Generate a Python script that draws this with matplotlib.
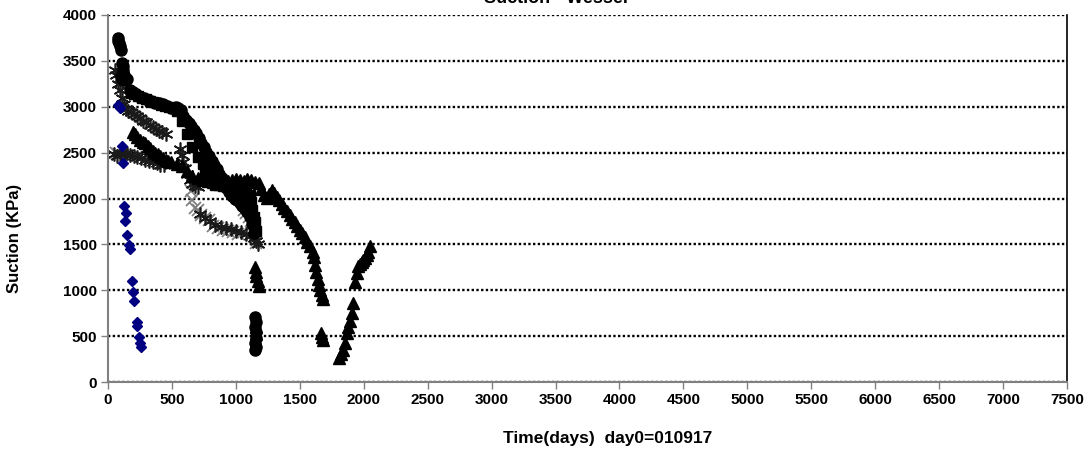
import matplotlib
matplotlib.use('Agg')
import matplotlib.pyplot as plot

plot.rcParams['font.family'] = ['Liberation Sans', 'DejaVu Sans']

# Values (days since 010917, suction in KPa)
diamond_x = [78, 95, 110, 120, 128, 141, 133, 151, 167, 172, 190, 198, 203, 227, 224, 242, 250, 256]
diamond_y = [3020, 2985, 2570, 2390, 1918, 1845, 1755, 1602, 1493, 1446, 1101, 984, 886, 657, 610, 487, 429, 385]

circle_x = [75, 80, 88, 95, 100, 110, 115, 120, 128, 105, 112, 125, 135, 145,
            170, 195, 220, 250, 280, 310, 340, 370, 400, 430, 460, 490,
            530, 550, 570, 590, 610, 630, 650, 670, 690, 710, 730, 750, 770, 790,
            810, 830, 850, 870, 890, 910, 930, 950, 970, 990, 1010, 1030, 1050,
            1070, 1090, 1110, 1130, 1145,
            1150, 1155, 1150, 1155, 1160, 1150, 1155, 1150]
circle_y = [3750, 3720, 3700, 3660, 3620, 3480, 3440, 3400, 3350, 3330, 3300, 3310, 3290, 3300,
            3180, 3160, 3140, 3110, 3090, 3070, 3060, 3040, 3040, 3030, 3010, 2990,
            3000, 2990, 2960, 2900, 2860, 2820, 2790, 2750, 2710, 2660, 2600, 2560, 2510, 2460,
            2410, 2370, 2320, 2270, 2220, 2170, 2110, 2070, 2030, 2000, 1980, 1950, 1920,
            1890, 1850, 1800, 1720, 1620,
            710, 650, 600, 540, 480, 430, 380, 350]

square_x = [180, 205, 235, 265, 295, 325, 355, 385, 415, 445, 475, 505,
            540, 580, 620, 660, 700, 740, 760, 780, 800, 820,
            840, 870, 900, 930, 960, 990, 1020, 1050, 1080, 1110,
            1120, 1130, 1140, 1150, 1160]
square_y = [3150, 3140, 3120, 3100, 3080, 3060, 3050, 3040, 3020, 3010, 3000, 2990,
            2950, 2850, 2700, 2560, 2450, 2380, 2300, 2260, 2220, 2180,
            2150, 2150, 2140, 2120, 2110, 2100, 2090, 2080, 2060, 2040,
            1960, 1880, 1800, 1740, 1650]

triangle_x = [195, 210, 230, 250, 270, 290, 310, 330, 350, 370, 390, 410, 430, 450, 470, 490,
              540, 580, 620, 660, 700, 740, 780, 820, 860,
              880, 910, 940, 970, 1000, 1030, 1060, 1090, 1120, 1150, 1180,
              1200, 1220, 1240, 1260, 1280, 1300, 1320, 1340, 1360, 1380, 1400, 1420,
              1440, 1460, 1480, 1500, 1520, 1540, 1560, 1580, 1600, 1610, 1620, 1630,
              1640, 1650, 1660, 1670, 1680,
              1150, 1155, 1160, 1170, 1180, 1160, 1160,
              1665, 1670, 1680,
              1810, 1825, 1840, 1853, 1866, 1880, 1892, 1905, 1918, 1931, 1944, 1957,
              1970, 1984, 1997, 2010, 2023, 2036, 2049]
triangle_y = [2730, 2700, 2670, 2640, 2620, 2600, 2570, 2550, 2520, 2500, 2480, 2460, 2440, 2420, 2410, 2400,
              2380, 2350, 2300, 2250, 2220, 2200, 2190, 2180, 2180,
              2190, 2200, 2190, 2200, 2210, 2200, 2190, 2210, 2200, 2180, 2170,
              2100, 2040, 2010, 2050, 2090, 2060, 2020, 1980, 1940, 1900, 1860, 1820,
              1780, 1740, 1700, 1660, 1620, 1580, 1530, 1480, 1420, 1360, 1280, 1200,
              1120, 1060, 1000, 950, 900,
              1250, 1200, 1150, 1100, 1050, 600, 520,
              530, 490, 460,
              260, 300, 350, 420, 530, 600, 660, 750, 860, 1090, 1190, 1260,
              1290, 1310, 1330, 1350, 1380, 1420, 1480]

star_x = [55, 65, 80, 95, 110, 125, 140, 160, 180, 200, 225, 250, 275, 300, 325, 350, 375, 400, 425, 450,
          50, 70, 90, 110, 130, 150, 175, 200, 230, 260, 290, 320, 350, 380, 410, 440,
          560, 575, 590, 605, 620, 640, 660, 680, 700,
          720, 760, 800, 840, 880, 920, 960, 1000, 1040, 1080, 1110, 1140, 1160, 1170]
star_y = [3400, 3350, 3250, 3180, 3100, 3030, 2980, 2950, 2940, 2920, 2900, 2880, 2850, 2830, 2800, 2780, 2760, 2740, 2720, 2700,
          2480, 2460, 2490, 2500, 2480, 2500, 2470, 2460, 2450, 2440, 2420, 2410, 2400, 2390, 2370, 2360,
          2540, 2470, 2400, 2330, 2270, 2200, 2160, 2140, 2120,
          1830, 1790, 1750, 1710, 1690, 1680, 1670, 1650, 1630, 1610, 1590, 1570, 1540, 1500]

cross_x = [60, 75, 90, 650, 660, 680, 700, 730, 760, 790, 820, 860, 900, 940, 980, 1020,
           1060, 1080, 1100, 1120, 1140, 1150, 1160]
cross_y = [2500, 2480, 3320, 2080, 1980, 1900, 1870, 1820, 1790, 1770, 1700, 1680, 1660, 1650, 1630, 1610,
           1880, 1840, 1800, 1760, 1720, 1640, 1520]

fig = plot.figure(figsize=(10.9, 4.51), dpi=100)
ax = fig.add_axes([108 / 1090, 1 - 382 / 451, (1067 - 108) / 1090, (382 - 15) / 451])

# Series, drawn in order so the blue diamonds end up on top
ax.plot(cross_x, cross_y, 'x', color='#808080', markersize=8, markeredgewidth=1.3, linestyle='none')
ax.plot(star_x, star_y, marker=(6, 2, 0), color='#1a1a1a', markersize=10, markeredgewidth=1.2, linestyle='none')
ax.plot(triangle_x, triangle_y, '^', color='black', markersize=8, linestyle='none')
ax.plot(square_x, square_y, 's', color='black', markersize=7, linestyle='none')
ax.plot(circle_x, circle_y, 'o', color='black', markersize=8, linestyle='none')
ax.plot(diamond_x, diamond_y, 'D', color='#000080', markersize=5.5, linestyle='none')

ax.set_xlim(0, 7500)
ax.set_ylim(0, 4000)
ax.set_xticks(range(0, 7501, 500))
ax.set_yticks(range(0, 4001, 500))
for label in ax.get_xticklabels() + ax.get_yticklabels():
    label.set_fontweight('bold')
    label.set_fontsize(11)
ax.tick_params(direction='out', length=5, width=1, color='#808080', pad=3)

# Dotted horizontal grid like the spreadsheet original
ax.grid(axis='y', color='black', linestyle=(0, (1, 1)), linewidth=1.7)
ax.set_axisbelow(True)

for side in ['left', 'bottom']:
    ax.spines[side].set_color('#808080')
    ax.spines[side].set_linewidth(1.5)
ax.spines['right'].set_color('black')
ax.spines['right'].set_linewidth(1.2)
ax.spines['top'].set_visible(False)

fig.text(15 / 1090, 1 - 238 / 451, 'Suction (KPa)', rotation=90, ha='center', va='center',
         fontsize=12, fontweight='bold')
fig.text(608 / 1090, 1 - 438 / 451, 'Time(days)  day0=010917', ha='center', va='center',
         fontsize=12.5, fontweight='bold')
# Title is mostly cut off at the top edge in the reference
fig.text(556 / 1090, 1 - 3 / 451, 'Suction - Wessel', ha='center', va='baseline',
         fontsize=13, fontweight='bold')

fig.savefig('out.png', dpi=100)
